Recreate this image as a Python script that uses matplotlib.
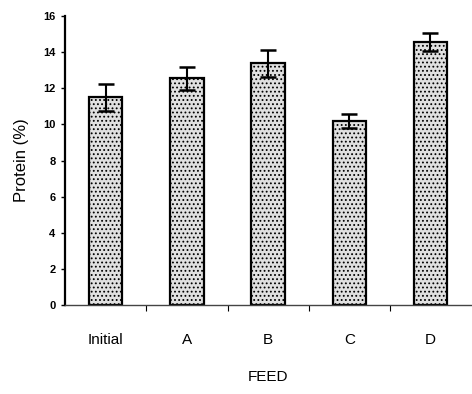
import matplotlib
matplotlib.use('Agg')
import matplotlib.pyplot as plt
import numpy as np

# data
feeds = ['Initial', 'A', 'B', 'C', 'D']
protein = [11.5, 12.55, 13.4, 10.2, 14.55]
protein_err = [0.75, 0.65, 0.75, 0.4, 0.5]

plt.rcParams['font.family'] = ['Liberation Sans', 'DejaVu Sans']
plt.rcParams['hatch.color'] = '#555555'
plt.rcParams['hatch.linewidth'] = 0.8

fig = plt.figure(figsize=(4.72, 3.94), dpi=100)
ax = fig.add_axes([0.138, 0.226, 0.86, 0.733])

x = np.arange(len(feeds))
ax.bar(x, protein, width=0.41, color='#e0e0e0', edgecolor='black',
       linewidth=1.6, hatch='....', zorder=2)
ax.errorbar(x, protein, yerr=protein_err, fmt='none', ecolor='black',
            elinewidth=1.5, capsize=6, capthick=1.8, zorder=3)

ax.set_xlim(-0.5, 4.5)
ax.set_ylim(0, 16)
ax.set_yticks(np.arange(0, 17, 2))
ax.set_yticklabels([str(v) for v in range(0, 17, 2)], fontsize=8, fontweight='bold')

# category labels at bar centres, ticks between bars
ax.set_xticks(x)
ax.set_xticklabels(feeds, fontsize=11)
ax.tick_params(axis='x', length=0, pad=20)
ax.set_xticks(x[:-1] + 0.5, minor=True)
ax.tick_params(axis='x', which='minor', length=4, width=0.8, direction='out')
ax.tick_params(axis='y', length=3, width=1.0, pad=4)

ax.spines['top'].set_visible(False)
ax.spines['right'].set_visible(False)
ax.spines['left'].set_linewidth(1.6)
ax.spines['bottom'].set_linewidth(1.0)
ax.spines['bottom'].set_color('#444444')

ax.set_ylabel('Protein (%)', fontsize=12, labelpad=10)
ax.set_xlabel('FEED', fontsize=11, labelpad=17)

fig.savefig('out.png', dpi=100)
